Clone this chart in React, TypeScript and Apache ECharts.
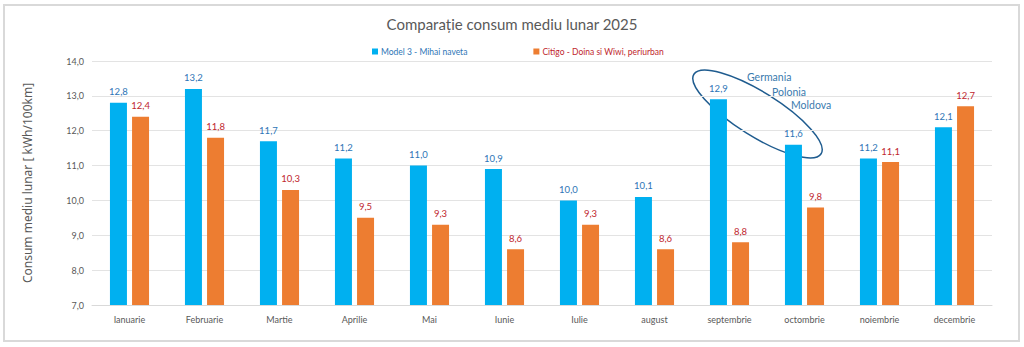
import React, { useEffect, useRef } from "react";
import * as echarts from "echarts";

const months = ["Ianuarie", "Februarie", "Martie", "Aprilie", "Mai", "Iunie", "Iulie", "august", "septembrie", "octombrie", "noiembrie", "decembrie"];
const model3 = [12.8, 13.2, 11.7, 11.2, 11.0, 10.9, 10.0, 10.1, 12.9, 11.6, 11.2, 12.1];
const citigo = [12.4, 11.8, 10.3, 9.5, 9.3, 8.6, 9.3, 8.6, 8.8, 9.8, 11.1, 12.7];
const seriesNames = ["Model 3 - Mihai naveta", "Citigo - Doina si Wiwi, periurban"];
const annotations = ["Germania", "Polonia", "Moldova"];

const fmt = (v: number) => v.toFixed(1).replace(".", ",");
const FONT = "Lato, 'Open Sans', sans-serif";

export default function App() {
  const ref = useRef<HTMLDivElement>(null);
  useEffect(() => {
    if (!ref.current) return;
    const chart = echarts.init(ref.current, null, { renderer: "svg" });
    chart.setOption({
      animation: false,
      backgroundColor: "#ffffff",
      title: {
        text: "Comparație consum mediu lunar 2025",
        left: "center",
        top: 11,
        textStyle: { fontSize: 15, fontWeight: "normal", color: "#595959", fontFamily: FONT },
      },
      legend: {
        top: 42,
        left: 367,
        itemWidth: 6,
        itemHeight: 6,
        itemGap: 66,
        icon: "rect",
        data: [
          { name: seriesNames[0], textStyle: { color: "#2E75B6" } },
          { name: seriesNames[1], textStyle: { color: "#C0262D" } },
        ],
        textStyle: { fontSize: 8.5, fontFamily: FONT, padding: [0, 0, 0, -2] },
      },
      grid: { left: 92, right: 32, top: 61, bottom: 42, containLabel: false },
      xAxis: {
        type: "category",
        data: months,
        axisTick: { show: false },
        axisLine: { lineStyle: { color: "#d9d9d9" } },
        axisLabel: { color: "#595959", fontSize: 9, fontFamily: FONT, margin: 10 },
      },
      yAxis: {
        type: "value",
        min: 7,
        max: 14,
        interval: 1,
        name: "Consum mediu lunar [ kWh/100km]",
        nameLocation: "middle",
        nameGap: 59,
        nameTextStyle: { color: "#595959", fontSize: 12, fontFamily: "'Noto Sans', sans-serif" },
        axisLabel: { color: "#595959", fontSize: 9, fontFamily: FONT, formatter: (v: number) => fmt(v), margin: 8 },
        splitLine: { lineStyle: { color: "#e3e3e3" } },
      },
      series: [
        {
          name: seriesNames[0],
          type: "bar",
          data: model3,
          barWidth: 17,
          barGap: "30%",
          itemStyle: { color: "#00B0F0" },
          label: { show: true, position: "top", distance: 6, color: "#2E75B6", fontSize: 9.5, fontFamily: FONT, formatter: (p: any) => fmt(p.value) },
        },
        {
          name: seriesNames[1],
          type: "bar",
          data: citigo,
          barWidth: 17,
          itemStyle: { color: "#ED7D31" },
          label: { show: true, position: "top", distance: 6, color: "#C0262D", fontSize: 9.5, fontFamily: FONT, formatter: (p: any) => fmt(p.value) },
        },
      ],
      graphic: [
        {
          type: "rect",
          shape: { x: 4, y: 5, width: 1015, height: 336 },
          style: { fill: "none", stroke: "#d9d9d9", lineWidth: 2 },
          silent: true,
        },
        {
          type: "ellipse",
          x: 757.5,
          y: 114,
          rotation: (-32 * Math.PI) / 180,
          shape: { cx: 0, cy: 0, rx: 75, ry: 22 },
          style: { fill: "none", stroke: "#1F5C8F", lineWidth: 1.5 },
          silent: true,
        },
        { type: "text", x: 747, y: 77, style: { text: annotations[0], fill: "#3A7AAE", fontSize: 10.5, fontFamily: FONT, textVerticalAlign: "middle" } },
        { type: "text", x: 772, y: 92, style: { text: annotations[1], fill: "#3A7AAE", fontSize: 10.5, fontFamily: FONT, textVerticalAlign: "middle" } },
        { type: "text", x: 791, y: 105, style: { text: annotations[2], fill: "#3A7AAE", fontSize: 10.5, fontFamily: FONT, textVerticalAlign: "middle" } },
      ],
    });
    return () => chart.dispose();
  }, []);
  return <div ref={ref} style={{ position: "absolute", left: 0, top: 0, width: 1024, height: 347 }} />;
}
